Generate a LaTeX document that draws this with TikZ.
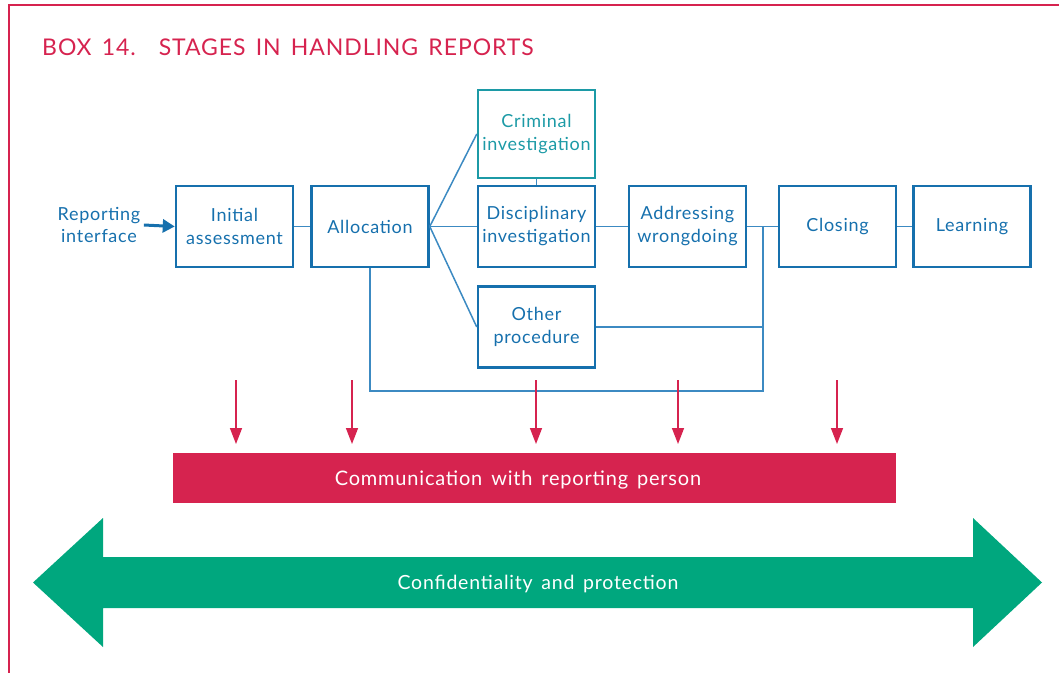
\documentclass[tikz,border=0pt]{standalone}
\usepackage{fontspec}
\setmainfont{Lato}[LetterSpace=4,WordSpace=1.5]
\usepackage{tikz}
\usetikzlibrary{arrows.meta}
\definecolor{boxblue}{HTML}{1670AD}
\definecolor{lineblue}{HTML}{3C8AC2}
\definecolor{crimteal}{HTML}{1C9AA6}
\definecolor{boxred}{HTML}{D6234F}
\definecolor{protgreen}{HTML}{00A77E}
\tikzstyle{stage} = [rectangle,minimum width=117pt,minimum height=81pt,text centered,align=center,draw=boxblue,line width=2.5pt,text=boxblue,font=\fontsize{18}{23}\selectfont]
\tikzstyle{crimstage} = [stage,draw=crimteal,text=crimteal,minimum height=88pt]
\tikzstyle{link} = [draw=lineblue,line width=1.5pt]
\tikzstyle{inarrow} = [draw=boxblue,line width=3pt,-{Triangle[length=12pt,width=13pt]}]
\tikzstyle{commarrow} = [draw=boxred,line width=1.5pt,-{Triangle[length=16pt,width=12pt]}]

\begin{document}
\begin{tikzpicture}[x=1pt,y=-1pt]
\useasboundingbox (0,0) rectangle (1059,672);
\clip (0,0) rectangle (1059,672);
% frame and title
\draw [boxred,line width=2pt] (9,5) rectangle (1200,800);
\node (title) [anchor=base west,inner sep=0pt,text=boxred,font=\fontsize{23}{28}\selectfont] at (42,55) {BOX 14.\hspace{1em}STAGES IN HANDLING REPORTS};

% stages
\node (report) [align=center,text=boxblue,font=\fontsize{18}{22}\selectfont] at (99,225) {Reporting\\interface};
\node (initial) [stage] at (234.5,226.5) {Initial\\assessment};
\node (alloc) [stage] at (370,226.5) {Allocation};
\node (crim) [crimstage] at (536.5,134) {Criminal\\investigation};
\node (disc) [stage] at (536.5,226.5) {Disciplinary\\investigation};
\node (other) [stage] at (536.5,327) {Other\\procedure};
\node (address) [stage] at (687.5,226.5) {Addressing\\wrongdoing};
\node (closing) [stage] at (837.5,226.5) {Closing};
\node (learn) [stage] at (972,226.5) {Learning};
\coordinate (jtop) at (763,226.5);
\coordinate (jbot) at (763,391);

\draw [inarrow] (report.east) -- (initial.west);
\draw [link] (initial) -- (alloc);
\draw [link] (alloc.east) -- (crim.west);
\draw [link] (alloc.east) -- (disc.west);
\draw [link] (alloc.east) -- (other.west);
\draw [link] (crim) -- (disc);
\draw [link] (disc) -- (address);
\draw [link] (address) -- (closing);
\draw [link] (closing) -- (learn);
\draw [link] (alloc.south) |- (jbot) -- (jtop);
\draw [link] (other.east) -- (other.east -| jtop);

% communication
\node (comm) [rectangle,fill=boxred,minimum width=723pt,minimum height=50pt] at (534.5,478) {};
\node (commtext) [text=white,font=\fontsize{20}{24}\selectfont] at (518,479.5) {Communication with reporting person};
\foreach \x [count=\i] in {236,352,536,678,837} {
  \coordinate (ctop\i) at (\x,380);
  \coordinate (cend\i) at (\x,444);
  \draw [commarrow] (ctop\i) -- (cend\i);
}

% confidentiality
\fill [protgreen] (33,582.5) -- (103,518) -- (103,557) -- (973,557) -- (973,518) -- (1042,582.5) -- (973,647) -- (973,608) -- (103,608) -- (103,647) -- cycle;
\node (protect) [text=white,font=\fontsize{19.5}{24}\selectfont] at (538,583.5) {Confidentiality and protection};
\end{tikzpicture}
\end{document}
